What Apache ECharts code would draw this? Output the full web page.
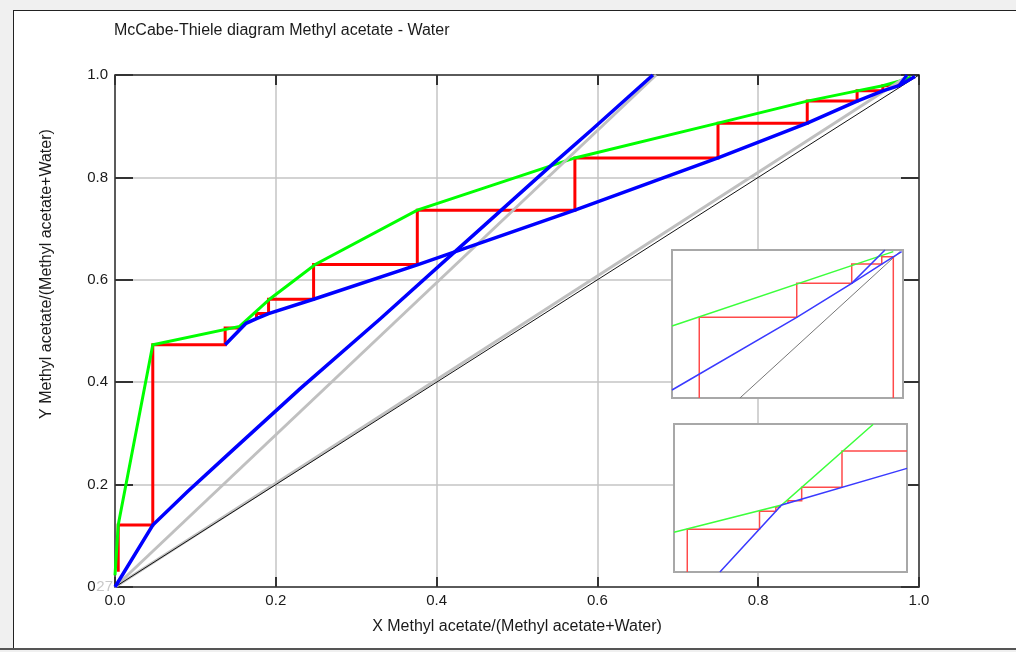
<!DOCTYPE html>
<html><head><meta charset="utf-8">
<script src="https://cdn.jsdelivr.net/npm/echarts@6/dist/echarts.min.js"></script>
<style>
html,body{margin:0;padding:0;width:1016px;height:652px;overflow:hidden;background:#f0f0f0;}
#panel{position:absolute;left:13px;top:10px;width:1003px;height:638px;background:#fff;border-left:1px solid #222;border-top:1px solid #222;box-sizing:border-box;}
#bottom{position:absolute;left:0;top:648px;width:1016px;height:2px;background:#555;}
#chart{position:absolute;left:0;top:0;width:1016px;height:652px;}
</style></head><body>
<div id="panel"></div><div id="bottom"></div><div id="chart"></div>
<script>
// ---------- data (main diagram, mole fractions) ----------
const tickValues = [0, 0.2, 0.4, 0.6, 0.8, 1.0];
const eqX = [0, 0.004, 0.047, 0.155, 0.193, 0.249, 0.376, 0.572, 0.75, 0.861, 0.923, 0.955, 0.975, 0.99];
const eqY = [0.023, 0.121, 0.473, 0.509, 0.563, 0.630, 0.736, 0.838, 0.906, 0.949, 0.969, 0.979, 0.988, 0.996];
const stripX = [0, 0.047, 0.09, 0.14, 0.23, 0.33, 0.425, 0.545, 0.593, 0.669];
const stripY = [0, 0.121, 0.186, 0.258, 0.387, 0.524, 0.658, 0.827, 0.893, 1.0];
const opX = [0.137, 0.163, 0.176, 0.191, 0.247, 0.376, 0.572, 0.75, 0.861, 0.923, 0.955, 0.975, 0.995];
const opY = [0.473, 0.515, 0.524, 0.534, 0.562, 0.629, 0.736, 0.838, 0.906, 0.949, 0.969, 0.979, 0.997];
const kinkX = [0.975, 0.985];
const kinkY = [0.979, 1.0];
const qX = [0, 0.673];
const qY = [0, 1.0];
const refX = [0, 0.983];
const refY = [0, 0.995];
const diagX = [0, 1];
const diagY = [0, 1];
const stairLowX = [0.004, 0.004, 0.047, 0.047, 0.137, 0.137, 0.155];
const stairLowY = [0.03, 0.121, 0.121, 0.473, 0.473, 0.506, 0.506];
const stairHighX = [0.176, 0.176, 0.191, 0.191, 0.247, 0.247, 0.376, 0.376, 0.572, 0.572, 0.75, 0.75, 0.861, 0.861, 0.923, 0.923, 0.955, 0.955, 0.975, 0.975];
const stairHighY = [0.524, 0.534, 0.534, 0.562, 0.562, 0.630, 0.630, 0.736, 0.736, 0.838, 0.838, 0.906, 0.906, 0.949, 0.949, 0.969, 0.969, 0.979, 0.979, 0.988];

// ---------- data (inset 1, local 0..1 coordinates) ----------
const in1EqX = [0, 0.958];
const in1EqY = [0.486, 0.989];
const in1OpAX = [0, 0.54, 0.778, 0.922];
const in1OpAY = [0.054, 0.545, 0.775, 1.0];
const in1OpBX = [0.778, 0.908, 0.994];
const in1OpBY = [0.775, 0.905, 0.989];
const in1DiagX = [0.294, 0.987];
const in1DiagY = [0, 0.989];
const in1StairX = [0.118, 0.118, 0.54, 0.54, 0.778, 0.778, 0.908, 0.908, 0.958, 0.958];
const in1StairY = [0, 0.545, 0.545, 0.775, 0.775, 0.905, 0.905, 0.955, 0.955, 0];

// ---------- data (inset 2, local 0..1 coordinates) ----------
const in2EqX = [0, 0.462, 0.855];
const in2EqY = [0.268, 0.453, 0.998];
const in2OpX = [0.197, 0.462, 1.0];
const in2OpY = [0, 0.453, 0.70];
const in2StairLowX = [0.057, 0.057, 0.367, 0.367, 0.437, 0.437, 0.454, 0.454];
const in2StairLowY = [0, 0.289, 0.289, 0.411, 0.411, 0.44, 0.44, 0.45];
const in2StairHighX = [0.489, 0.489, 0.548, 0.548, 0.721, 0.721, 1.0];
const in2StairHighY = [0.465, 0.482, 0.482, 0.572, 0.572, 0.818, 0.818];

const zip = (xs, ys) => xs.map((x, i) => [x, ys[i]]);
const FONT = '"Liberation Sans", Arial, sans-serif';
const TXT = '#1a1a1a';

function ln(name, xs, ys, color, width, z, xi, yi) {
  return {
    name, type: 'line', data: zip(xs, ys), xAxisIndex: xi || 0, yAxisIndex: yi || 0,
    showSymbol: false, symbol: 'none', silent: true, z: z, clip: true,
    lineStyle: { color, width, cap: 'butt', join: 'miter' }, animation: false
  };
}

const axisLine = { show: true, onZero: false, lineStyle: { color: '#333', width: 1.5 } };
const hidden = (g) => ({ gridIndex: g, type: 'value', min: 0, max: 1, show: false });

const chart = echarts.init(document.getElementById('chart'), null, { renderer: 'canvas' });
chart.setOption({
  backgroundColor: 'transparent',
  animation: false,
  grid: [
    { left: 115, top: 75, width: 804, height: 512, z: 0 },
    { left: 672, top: 250, width: 231, height: 148, show: true, backgroundColor: '#fff', borderColor: '#a8a8a8', borderWidth: 2, z: 5 },
    { left: 674, top: 424, width: 233, height: 148, show: true, backgroundColor: '#fff', borderColor: '#a8a8a8', borderWidth: 2, z: 5 }
  ],
  xAxis: [
    { gridIndex: 0, type: 'value', min: 0, max: 1, interval: 0.2, position: 'bottom', axisLine,
      axisTick: { show: true, inside: true, length: 10, lineStyle: { color: '#333', width: 2 } },
      axisLabel: { formatter: v => v.toFixed(1), fontSize: 15, fontFamily: FONT, color: TXT, margin: 6 },
      splitLine: { show: true, lineStyle: { color: '#c4c4c4', width: 1.5 } } },
    { gridIndex: 0, type: 'value', min: 0, max: 1, interval: 0.2, position: 'top', axisLine,
      axisTick: { show: true, inside: true, length: 10, lineStyle: { color: '#333', width: 2 } },
      axisLabel: { show: false }, splitLine: { show: false } },
    hidden(1), hidden(2)
  ],
  yAxis: [
    { gridIndex: 0, type: 'value', min: 0, max: 1, interval: 0.2, position: 'left', axisLine,
      axisTick: { show: true, inside: true, length: 18, lineStyle: { color: '#333', width: 2 } },
      axisLabel: { formatter: v => v.toFixed(1), fontSize: 15, fontFamily: FONT, color: TXT, margin: 7 },
      splitLine: { show: true, lineStyle: { color: '#c4c4c4', width: 1.5 } } },
    { gridIndex: 0, type: 'value', min: 0, max: 1, interval: 0.2, position: 'right', axisLine,
      axisTick: { show: true, inside: true, length: 18, lineStyle: { color: '#333', width: 2 } },
      axisLabel: { show: false }, splitLine: { show: false } },
    hidden(1), hidden(2)
  ],
  series: [
    ln('stairs-low', stairLowX, stairLowY, '#ff0000', 3, 2),
    ln('stairs-high', stairHighX, stairHighY, '#ff0000', 3, 2),
    ln('equilibrium', eqX, eqY, '#00ff00', 3, 3),
    ln('q-ref', qX, qY, '#c0c0c0', 3, 3),
    ln('ref', refX, refY, '#c0c0c0', 3, 3),
    ln('diagonal', diagX, diagY, '#111111', 1, 4),
    ln('stripping', stripX, stripY, '#0000ff', 3.5, 4),
    ln('operating', opX, opY, '#0000ff', 3.5, 4),
    ln('kink', kinkX, kinkY, '#0000ff', 3, 4),

    ln('in1-diag', in1DiagX, in1DiagY, '#777777', 1, 6, 2, 2),
    ln('in1-stairs', in1StairX, in1StairY, '#ff4a4a', 1.5, 6, 2, 2),
    ln('in1-eq', in1EqX, in1EqY, '#3cff3c', 1.5, 7, 2, 2),
    ln('in1-opA', in1OpAX, in1OpAY, '#3a3aff', 1.5, 7, 2, 2),
    ln('in1-opB', in1OpBX, in1OpBY, '#3a3aff', 1.5, 7, 2, 2),

    ln('in2-stairs-low', in2StairLowX, in2StairLowY, '#ff4a4a', 1.5, 6, 3, 3),
    ln('in2-stairs-high', in2StairHighX, in2StairHighY, '#ff4a4a', 1.5, 6, 3, 3),
    ln('in2-eq', in2EqX, in2EqY, '#3cff3c', 1.5, 7, 3, 3),
    ln('in2-op', in2OpX, in2OpY, '#3a3aff', 1.5, 7, 3, 3)
  ],
  graphic: [
    { type: 'text', z: 20, style: { x: 114, y: 31, text: 'McCabe-Thiele diagram Methyl acetate - Water',
      font: '16px ' + FONT, fill: TXT, align: 'left', verticalAlign: 'middle', textAlign: 'left', textVerticalAlign: 'middle' } },
    { type: 'text', z: 20, style: { x: 517, y: 627, text: 'X Methyl acetate/(Methyl acetate+Water)',
      font: '16px ' + FONT, fill: TXT, align: 'center', verticalAlign: 'middle', textAlign: 'center', textVerticalAlign: 'middle' } },
    { type: 'text', z: 20, x: 47, y: 274, rotation: Math.PI / 2, style: { x: 0, y: 0, text: 'Y Methyl acetate/(Methyl acetate+Water)',
      font: '16px ' + FONT, fill: TXT, align: 'center', verticalAlign: 'middle', textAlign: 'center', textVerticalAlign: 'middle' } },
    { type: 'text', z: 20, style: { x: 113, y: 587, text: '27', font: '15px ' + FONT, fill: '#c8c8c8',
      backgroundColor: '#fff', align: 'right', verticalAlign: 'middle', textAlign: 'right', textVerticalAlign: 'middle' } }
  ]
});
</script></body></html>
